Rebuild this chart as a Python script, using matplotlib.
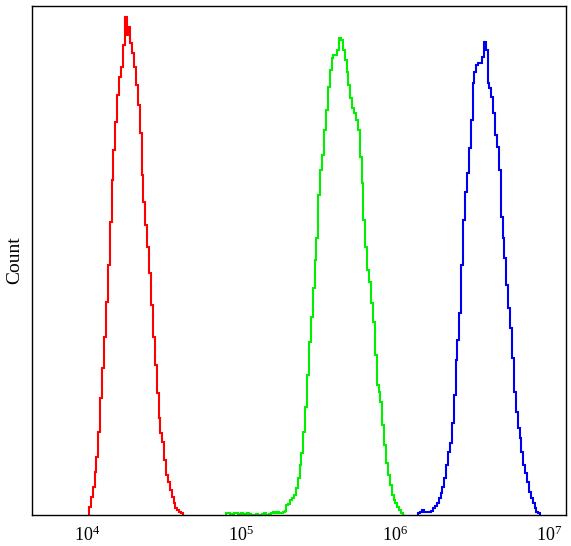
import numpy as np
import matplotlib
matplotlib.use('Agg')
import matplotlib.pyplot as plt

# histogram settings (log10 of first bin edge, bin width in decades)
log_start = 4.013
bin_w = 0.01221

# first bin index of each histogram on the common grid
red_k0 = 0
green_k0 = 73
blue_k0 = 175

# counts per bin
red_counts = [8, 18, 28, 43, 58, 83, 117, 147, 178, 213, 250, 293, 335, 365, 393,
              420, 438, 448, 470, 498, 480, 488, 472, 462, 448, 430, 410, 382, 340,
              313, 290, 268, 242, 210, 178, 150, 122, 97, 82, 73, 55, 40, 33, 25, 18,
              12, 7, 5, 3, 2]

green_counts = [2, 2, 0, 1, 2, 2, 1, 0, 2, 0, 1, 2, 1, 0, 0, 0, 1, 0, 0, 1, 2, 0, 0,
                1, 2, 3, 2, 3, 2, 2, 3, 4, 10, 11, 15, 17, 20, 27, 37, 50, 62, 83, 108,
                140, 173, 198, 227, 255, 277, 320, 345, 360, 385, 405, 428, 445, 457,
                460, 460, 465, 477, 475, 465, 455, 443, 430, 417, 407, 402, 395, 385,
                358, 332, 295, 268, 245, 233, 212, 193, 160, 130, 123, 113, 90, 70, 52,
                40, 30, 20, 15, 12, 8, 5, 2]

blue_counts = [2, 3, 5, 3, 3, 3, 3, 4, 7, 9, 12, 17, 22, 28, 37, 50, 63, 72, 92, 120,
               155, 175, 202, 250, 295, 323, 342, 367, 395, 432, 443, 450, 452, 452,
               458, 473, 465, 432, 427, 418, 402, 380, 368, 345, 298, 277, 257, 230,
               207, 187, 157, 123, 103, 87, 77, 63, 50, 42, 33, 23, 17, 12, 7, 3, 2]

tick_vals = [1e4, 1e5, 1e6, 1e7]
tick_labels = [r'$\mathregular{10^{4}}$', r'$\mathregular{10^{5}}$',
               r'$\mathregular{10^{6}}$', r'$\mathregular{10^{7}}$']

plt.rcParams['font.family'] = ['Liberation Serif', 'DejaVu Serif']
plt.rcParams['mathtext.fontset'] = 'custom'
plt.rcParams['mathtext.rm'] = 'Liberation Serif'


def bin_edges(k0, n):
    return 10 ** (log_start + bin_w * (k0 + np.arange(n + 1)))


fig = plt.figure(figsize=(5.71, 5.46), dpi=100)
ax = fig.add_axes([0.0555, 0.0568, 0.9355, 0.9322])

ax.stairs(red_counts, bin_edges(red_k0, len(red_counts)), color='#ff0000', lw=1.5)
ax.stairs(green_counts, bin_edges(green_k0, len(green_counts)), color='#00f000', lw=1.5)
ax.stairs(blue_counts, bin_edges(blue_k0, len(blue_counts)), color='#0000f0', lw=1.5)

ax.set_xscale('log')
ax.set_xlim(10 ** 3.641, 10 ** 7.110)
ax.set_ylim(0, 509)
ax.set_xticks(tick_vals)
ax.set_xticklabels(tick_labels, fontsize=13)
ax.xaxis.set_minor_locator(matplotlib.ticker.NullLocator())
ax.tick_params(axis='x', length=0, pad=8)
ax.set_yticks([])
ax.set_ylabel('Count', fontsize=14, labelpad=6)

for s in ax.spines.values():
    s.set_linewidth(1.0)

fig.savefig('out.png', dpi=100)
